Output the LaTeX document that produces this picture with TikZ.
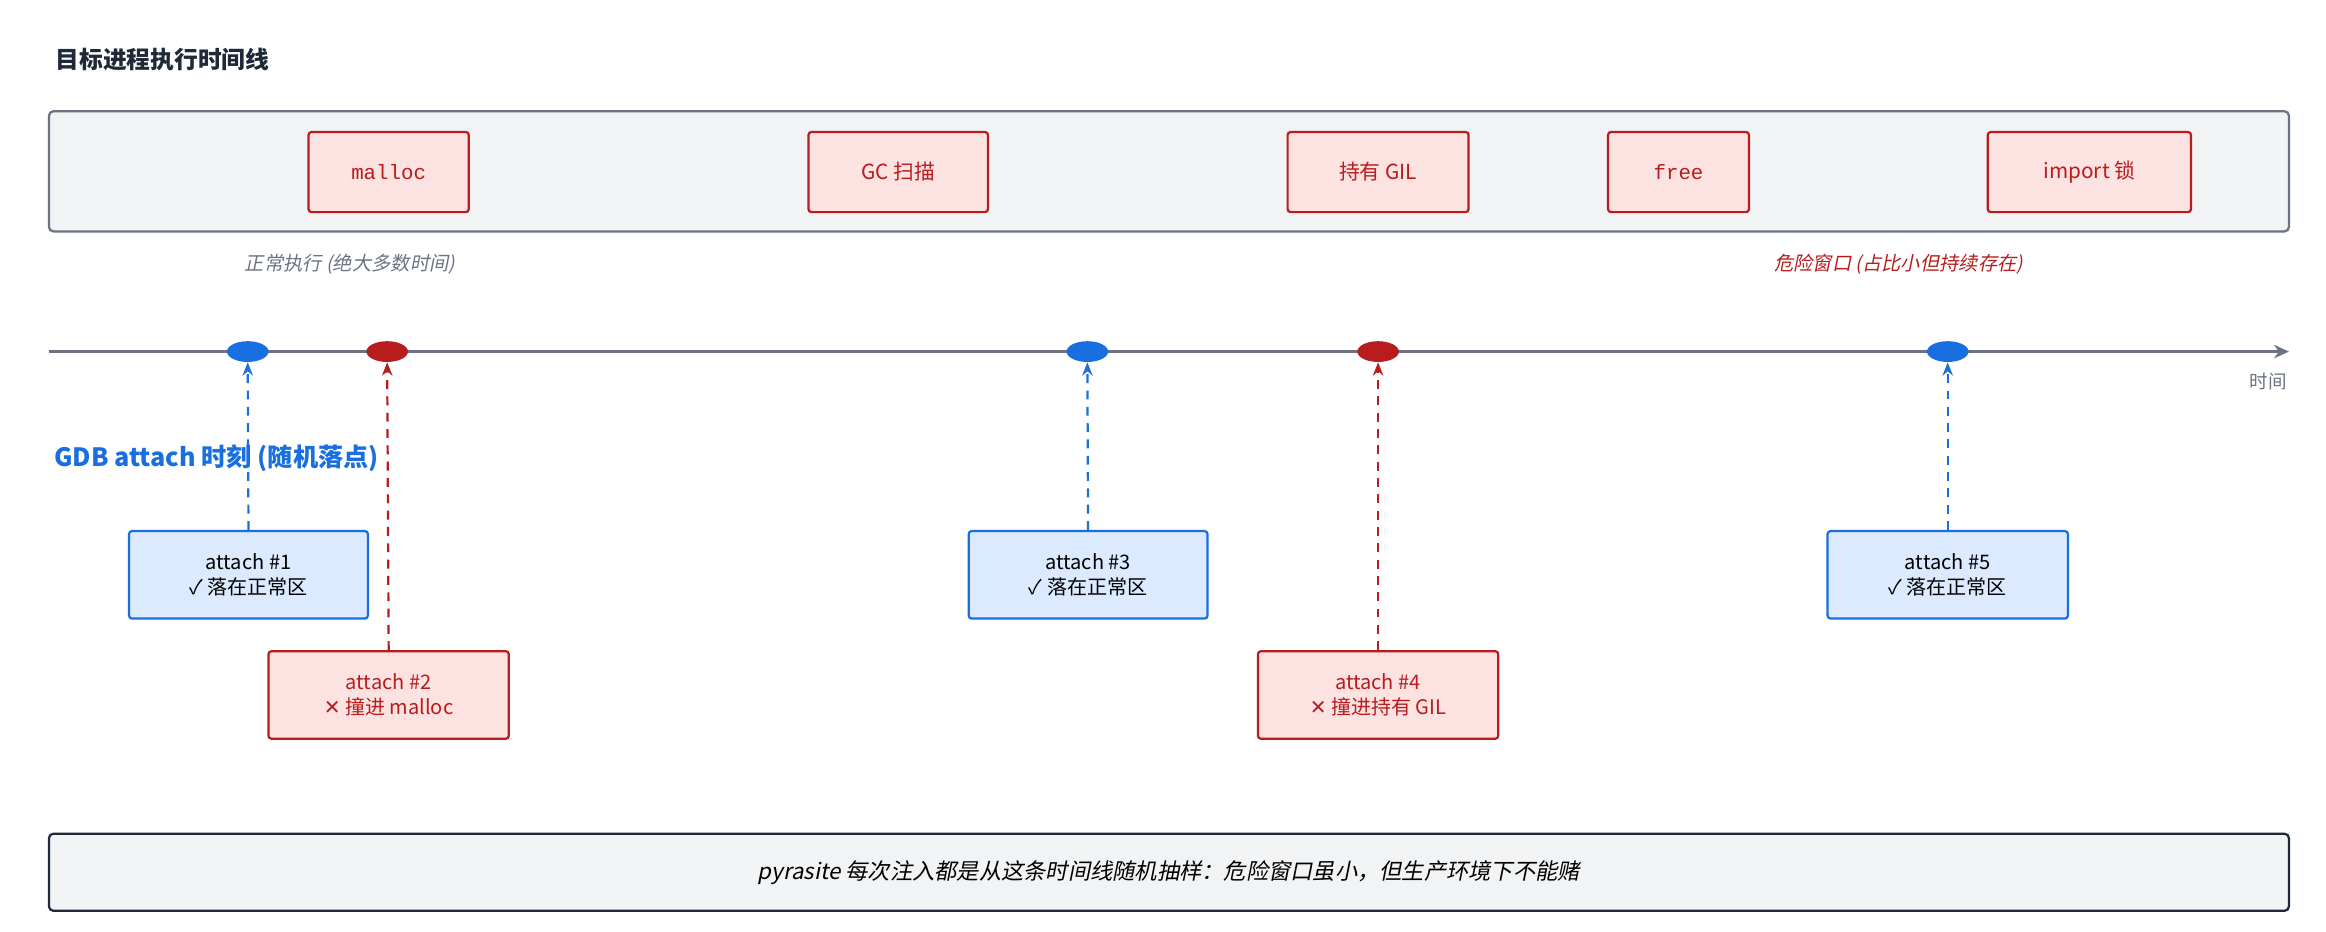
\documentclass[tikz,border=0pt]{standalone}
\usepackage{fontspec}
\setmainfont{Noto Sans CJK SC}
\newfontfamily\monof{Liberation Mono}
\newfontfamily\slantf{Noto Sans CJK SC}[FakeSlant=0.2]
\newfontfamily\symf{DejaVu Sans}
\usetikzlibrary{arrows.meta,shapes.geometric}
\definecolor{dred}{HTML}{B91C1C}
\definecolor{lred}{HTML}{FDE2E2}
\definecolor{dblue}{HTML}{1A6FE0}
\definecolor{lblue}{HTML}{DBEAFE}
\definecolor{panel}{HTML}{F1F3F5}
\definecolor{slate}{HTML}{6B7280}
\definecolor{ink}{HTML}{1F2937}
\tikzset{
  zone/.style={draw=dred, fill=lred, line width=1.5pt, rounded corners=2pt, text=dred, font=\fontsize{14}{16}\selectfont},
  blueat/.style={draw=dblue, fill=lblue, line width=1.5pt, rounded corners=2pt, align=center, font=\fontsize{13.5}{17}\selectfont, text=black},
  redat/.style={draw=dred, fill=lred, line width=1.5pt, rounded corners=2pt, align=center, font=\fontsize{13.5}{17}\selectfont, text=dred},
  hit/.style={ellipse, minimum width=28pt, minimum height=14pt, inner sep=0pt},
  probe/.style={-{Stealth[length=9pt,width=7pt]}, dashed, dash pattern=on 6pt off 5pt, line width=1.5pt}
}
\begin{document}
\begin{tikzpicture}[x=1pt,y=-1pt]
  \useasboundingbox (0,0) rectangle (1568,628);
  % title
  \node[anchor=west, font=\bfseries\fontsize{16}{18}\selectfont, text=ink] (title) at (34,40) {目标进程执行时间线};
  % execution band
  \draw[slate, fill=panel, line width=1.5pt, rounded corners=3pt] (33,75) rectangle (1543,156);
  \node[zone, minimum width=108pt, minimum height=54pt, font=\monof\fontsize{14}{16}\selectfont] (malloc) at (262,116) {malloc};
  \node[zone, minimum width=121pt, minimum height=54pt] (gc) at (605.5,116) {GC 扫描};
  \node[zone, minimum width=122pt, minimum height=54pt] (gil) at (929,116) {持有 GIL};
  \node[zone, minimum width=95pt, minimum height=54pt, font=\monof\fontsize{14}{16}\selectfont] (free) at (1131.5,116) {free};
  \node[zone, minimum width=137pt, minimum height=54pt] (imp) at (1408.5,116) {import 锁};
  \node[text=slate, font=\slantf\fontsize{13}{15}\selectfont] (normal) at (236,178) {正常执行 (绝大多数时间)};
  \node[text=dred, font=\slantf\fontsize{13}{15}\selectfont] (danger) at (1280,178) {危险窗口 (占比小但持续存在)};
  % time axis
  \coordinate (t0) at (33,237);
  \coordinate (t1) at (1543,237);
  \draw[slate, line width=1.5pt, -{Stealth[length=10pt,width=9pt]}] (t0) -- (t1);
  \node[text=slate, font=\fontsize{12.5}{14}\selectfont] (tlabel) at (1529,257) {时间};
  \foreach \x/\c/\n in {167/dblue/1, 261/dred/2, 733/dblue/3, 929/dred/4, 1313/dblue/5}
    \node[hit, fill=\c] (p\n) at (\x,237) {};
  % attach moments
  \node[anchor=west, text=dblue, font=\bfseries\fontsize{17}{20}\selectfont] (gdb) at (33,309) {GDB attach 时刻 (随机落点)};
  \node[blueat, minimum width=161pt, minimum height=59pt] (a1) at (167.5,387.5) {attach \#1\\✓ 落在正常区};
  \node[redat, minimum width=162pt, minimum height=59pt] (a2) at (262,468.5) {attach \#2\\{\symf ✕} 撞进 malloc};
  \node[blueat, minimum width=161pt, minimum height=59pt] (a3) at (733.5,387.5) {attach \#3\\✓ 落在正常区};
  \node[redat, minimum width=162pt, minimum height=59pt] (a4) at (929,468.5) {attach \#4\\{\symf ✕} 撞进持有 GIL};
  \node[blueat, minimum width=162pt, minimum height=59pt] (a5) at (1313,387.5) {attach \#5\\✓ 落在正常区};
  \foreach \n/\c in {1/dblue, 2/dred, 3/dblue, 4/dred, 5/dblue}
    \draw[probe, \c] (a\n.north) -- (p\n.south);
  % summary
  \node[draw=ink, fill=panel, line width=1.5pt, rounded corners=3pt, minimum width=1510pt, minimum height=52pt, font=\slantf\fontsize{15}{18}\selectfont, text=black] (note) at (788,588) {pyrasite 每次注入都是从这条时间线随机抽样：危险窗口虽小，但生产环境下不能赌};
\end{tikzpicture}
\end{document}
